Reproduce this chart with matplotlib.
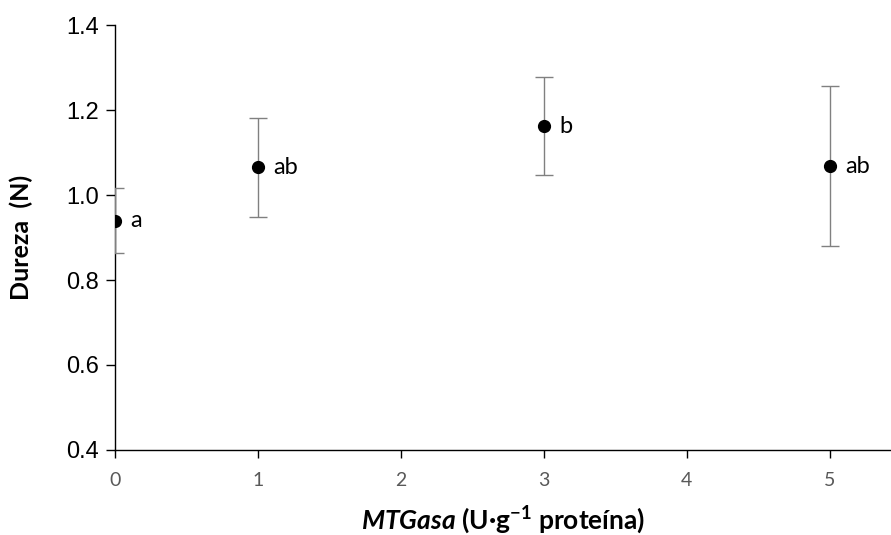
import matplotlib
matplotlib.use('Agg')
import matplotlib.pyplot as plt

# MTGasa dose (U/g protein) vs hardness
dose = [0, 1, 3, 5]
dureza = [0.940, 1.065, 1.162, 1.068]
err = [0.077, 0.117, 0.115, 0.189]
letters = ['a', 'ab', 'b', 'ab']

plt.rcParams['mathtext.fontset'] = 'custom'
plt.rcParams['mathtext.rm'] = 'Lato:bold'
plt.rcParams['mathtext.it'] = 'Lato:bold:italic'
plt.rcParams['mathtext.bf'] = 'Lato:bold'

fig = plt.figure(figsize=(8.91, 5.35), dpi=100)
ax = fig.add_axes([0.129, 0.159, 0.871, 0.794])

ax.errorbar(dose, dureza, yerr=err, fmt='o', color='black', markersize=8.5,
            ecolor='#808080', elinewidth=1.0, capsize=6.5, capthick=1.0, zorder=3)

for x, y, t in zip(dose, dureza, letters):
    ax.annotate(t, (x, y), xytext=(11, 0), textcoords='offset points',
                va='center', ha='left', fontsize=17, family='Lato')

ax.set_xlim(0, 5.43)
ax.set_ylim(0.4, 1.4)
ax.set_xticks(range(6))
ax.set_yticks([0.4, 0.6, 0.8, 1.0, 1.2, 1.4])
ax.set_yticklabels(['0.4', '0.6', '0.8', '1.0', '1.2', '1.4'])

for s in ['top', 'right']:
    ax.spines[s].set_visible(False)
for s in ['left', 'bottom']:
    ax.spines[s].set_linewidth(1.0)
    ax.spines[s].set_color('black')

ax.tick_params(axis='y', direction='out', length=6.5, width=1.0, pad=5,
               labelsize=17, labelfontfamily='Liberation Sans')
ax.tick_params(axis='x', direction='out', length=6, width=1.0, pad=10,
               labelsize=14, labelcolor='#595959', labelfontfamily='Lato')

ax.set_ylabel('Dureza  (N)', fontsize=18, fontweight='bold', family='Lato')
ax.yaxis.set_label_coords(-0.105, 0.5)
ax.set_xlabel(r'$MTGasa$ (U·g$^{-1}$ proteína)', fontsize=19,
              fontweight='bold', family='Lato', va='center')
ax.xaxis.set_label_coords(0.5, -0.165)

fig.savefig('out.png', dpi=100)
